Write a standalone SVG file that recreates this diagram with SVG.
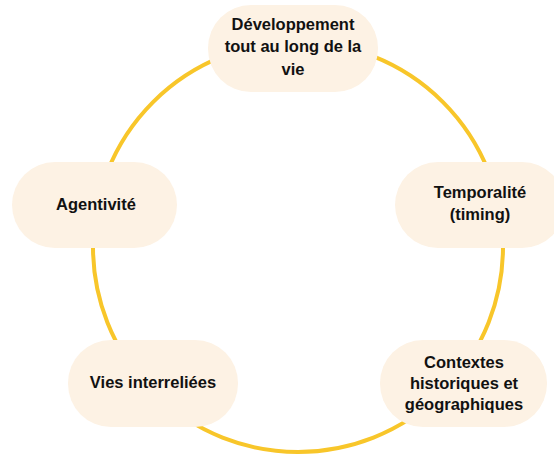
<svg xmlns="http://www.w3.org/2000/svg" width="554" height="455" viewBox="0 0 554 455">
<style>
.node rect{fill:#FDF2E4;}
.node text{font-family:"Liberation Sans",Arial,sans-serif;font-weight:bold;font-size:16.5px;fill:#111111;text-anchor:middle;}
.ring{fill:none;stroke:#F8C62A;stroke-width:4;}
</style>
<rect width="554" height="455" fill="#ffffff"/>
<g id="connectors">
<circle class="ring" cx="298" cy="247" r="205"/>
</g>
<g id="node-developpement" class="node">
<rect x="208" y="5" width="170" height="87" rx="43"/>
<text x="293" y="30">Développement</text>
<text x="293" y="52">tout au long de la</text>
<text x="293" y="75">vie</text>
</g>
<g id="node-temporalite" class="node">
<rect x="395" y="162" width="170" height="86" rx="43"/>
<text x="480" y="198">Temporalité</text>
<text x="480" y="220">(timing)</text>
</g>
<g id="node-contextes" class="node">
<rect x="380" y="340" width="167" height="87" rx="43"/>
<text x="464" y="368">Contextes</text>
<text x="464" y="389">historiques et</text>
<text x="464" y="410">géographiques</text>
</g>
<g id="node-agentivite" class="node">
<rect x="12" y="162" width="165" height="86" rx="43"/>
<text x="96" y="210">Agentivité</text>
</g>
<g id="node-vies" class="node">
<rect x="68" y="340" width="170" height="87" rx="43"/>
<text x="153" y="388">Vies interreliées</text>
</g>
</svg>
